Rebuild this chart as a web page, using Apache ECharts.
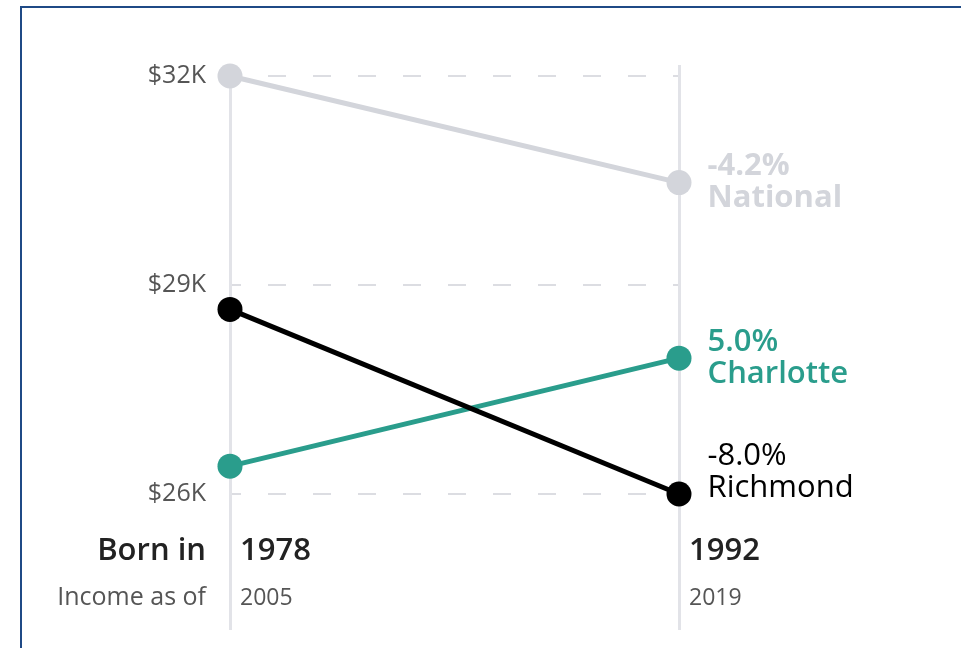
<!DOCTYPE html>
<html>
<head>
<meta charset="utf-8">
<script src="https://cdn.jsdelivr.net/npm/echarts@6/dist/echarts.min.js"></script>
<style>
  html, body { margin: 0; padding: 0; background: #fff; }
  #chart { width: 961px; height: 648px; }
</style>
</head>
<body>
<div id="chart"></div>
<script>
var cohorts = ['1978', '1992'];
var incomeYears = ['2005', '2019'];

var national = [32.0, 30.47];
var charlotte = [26.4, 27.95];
var richmond = [28.65, 26.0];

var nationalChange = '-4.2%';
var charlotteChange = '5.0%';
var richmondChange = '-8.0%';

var fontName = '"Open Sans", "Noto Sans", sans-serif';
var cGrey = '#d3d5db';
var cTeal = '#2a9d8c';
var cBlack = '#000000';

function endLabel(change, name, color, weight, offsetY) {
    return {
        show: true,
        position: 'right',
        distance: 16,
        offset: [0, offsetY],
        formatter: function (p) {
            return p.dataIndex === 1 ? change + '\n' + name : '';
        },
        color: color,
        fontFamily: fontName,
        fontSize: 31,
        fontWeight: weight,
        lineHeight: 32
    };
}

function slope(name, data, color, change, weight, offsetY) {
    return {
        name: name,
        type: 'line',
        data: data,
        xAxisIndex: 0,
        yAxisIndex: 0,
        symbol: 'circle',
        symbolSize: 25,
        lineStyle: { color: color, width: 5 },
        itemStyle: { color: color },
        label: endLabel(change, name, color, weight, offsetY),
        z: 5
    };
}

var chart = echarts.init(document.getElementById('chart'));
var option = {
    backgroundColor: '#ffffff',
    animation: false,
    grid: [
        { left: 230, right: 282, top: 76, bottom: 154 },
        // rails, taller than the value grid
        { left: 230, right: 282, top: 65, bottom: 18 }
    ],
    xAxis: [
        {
            type: 'category',
            gridIndex: 0,
            data: cohorts,
            boundaryGap: false,
            axisLine: { show: false },
            axisTick: { show: false },
            splitLine: { show: false },
            axisLabel: {
                margin: 34,
                align: 'left',
                padding: [0, 0, 0, 10],
                formatter: function (v, i) {
                    return '{a|' + v + '}\n{b|' + incomeYears[i] + '}';
                },
                rich: {
                    a: { fontFamily: fontName, fontSize: 31, fontWeight: 600, color: '#222', lineHeight: 46 },
                    b: { fontFamily: fontName, fontSize: 23, color: '#555', lineHeight: 48 }
                }
            }
        },
        {
            type: 'category',
            gridIndex: 1,
            data: cohorts,
            boundaryGap: false,
            axisLine: { show: false },
            axisTick: { show: false },
            axisLabel: { show: false },
            splitLine: { show: true, lineStyle: { color: '#e2e3e8', width: 3 } }
        }
    ],
    yAxis: [
        {
            type: 'value',
            gridIndex: 0,
            min: 26,
            max: 32,
            interval: 3,
            axisLine: { show: false },
            axisTick: { show: false },
            axisLabel: {
                margin: 24,
                color: '#555',
                fontFamily: fontName,
                fontSize: 25,
                formatter: function (v) { return '$' + v + 'K'; }
            },
            splitLine: {
                show: true,
                lineStyle: { color: '#dcdde2', width: 2, type: [18, 27], dashOffset: 7 }
            }
        },
        {
            type: 'value',
            gridIndex: 1,
            show: false,
            splitLine: { show: false }
        }
    ],
    series: [
        slope('National', national, cGrey, nationalChange, 'bold', 0),
        slope('Charlotte', charlotte, cTeal, charlotteChange, 600, 0),
        slope('Richmond', richmond, cBlack, richmondChange, 'normal', -22)
    ],
    graphic: [
        { type: 'text', x: 206, y: 551, style: { text: 'Born in', font: '600 31px ' + fontName, fill: '#222', textAlign: 'right', textVerticalAlign: 'middle' } },
        { type: 'text', x: 206, y: 598, style: { text: 'Income as of', font: '25px ' + fontName, fill: '#555', textAlign: 'right', textVerticalAlign: 'middle' } },
        { type: 'rect', left: 20, top: 6, shape: { width: 941, height: 2 }, style: { fill: '#1f4a86' } },
        { type: 'rect', left: 20, top: 6, shape: { width: 2, height: 642 }, style: { fill: '#1f4a86' } }
    ]
};
chart.setOption(option);
window.onresize = chart.resize;
</script>
</body>
</html>
